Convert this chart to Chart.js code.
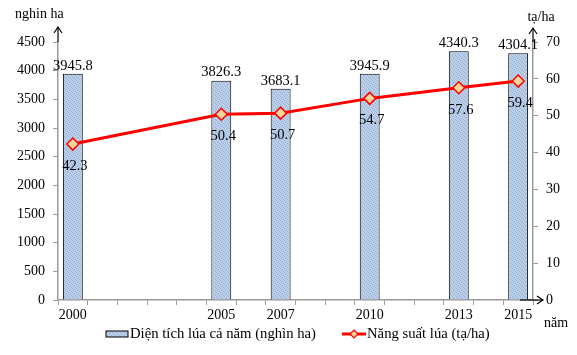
<!DOCTYPE html>
<html>
<head>
<meta charset="utf-8">
<script src="https://cdn.jsdelivr.net/npm/chart.js@4/dist/chart.umd.min.js"></script>
<style>
html,body{margin:0;padding:0;background:#fff;}
#c{display:block;}
</style>
</head>
<body>
<canvas id="c" width="577" height="355"></canvas>
<script>
const years = ['2000','2001','2002','2003','2004','2005','2006','2007','2008','2009','2010','2011','2012','2013','2014','2015'];
const shownYears = ['2000','2005','2007','2010','2013','2015'];
const areaValues = [3945.8, null, null, null, null, 3826.3, null, 3683.1, null, null, 3945.9, null, null, 4340.3, null, 4304.1];
const yieldValues = [42.3, null, null, null, null, 50.4, null, 50.7, null, null, 54.7, null, null, 57.6, null, 59.4];
const areaLabel = 'Diện tích lúa cả năm (nghìn ha)';
const yieldLabel = 'Năng suất lúa (tạ/ha)';
const leftTitle = 'nghin ha';
const rightTitle = 'tạ/ha';
const xTitle = 'năm';

const FONT = '"Liberation Serif", "Times New Roman", serif';

function makePattern() {
  const p = document.createElement('canvas');
  p.width = 4; p.height = 4;
  const g = p.getContext('2d');
  g.fillStyle = '#bdd0ea';
  g.fillRect(0,0,4,4);
  g.fillStyle = '#94aed6';
  g.fillRect(0,0,1,1); g.fillRect(2,1,1,1); g.fillRect(1,2,1,1); g.fillRect(3,3,1,1);
  return document.getElementById('c').getContext('2d').createPattern(p, 'repeat');
}
const barFill = makePattern();

function arrowUp(ctx, x, yTop, yBottom) {
  ctx.beginPath();
  ctx.moveTo(x, yBottom); ctx.lineTo(x, yTop);
  ctx.stroke();
  ctx.beginPath();
  ctx.moveTo(x - 4, yTop + 6); ctx.lineTo(x, yTop); ctx.lineTo(x + 4, yTop + 6);
  ctx.stroke();
}

const extras = {
  id: 'extras',
  afterDatasetsDraw(chart) {
    const ctx = chart.ctx;
    ctx.save();
    ctx.font = '14.5px ' + FONT;
    ctx.fillStyle = '#000';
    ctx.textAlign = 'center';
    ctx.textBaseline = 'middle';
    const m0 = chart.getDatasetMeta(0);
    m0.data.forEach((el, i) => {
      const v = areaValues[i];
      if (v == null) return;
      ctx.fillText(v.toFixed(1), el.x, el.y - 8);
    });
    const m1 = chart.getDatasetMeta(1);
    m1.data.forEach((el, i) => {
      const v = yieldValues[i];
      if (v == null) return;
      ctx.fillText(v.toFixed(1), el.x + 2, el.y + 22);
    });
    ctx.restore();
  },
  afterDraw(chart) {
    const ctx = chart.ctx;
    const a = chart.chartArea;
    ctx.save();
    ctx.strokeStyle = '#000';
    ctx.lineWidth = 1.2;
    arrowUp(ctx, a.left, a.top - 15, a.top);
    arrowUp(ctx, a.right, a.top - 14, a.top);
    // bottom right arrow
    ctx.beginPath();
    ctx.moveTo(a.right - 13, a.bottom); ctx.lineTo(a.right + 10, a.bottom);
    ctx.stroke();
    ctx.beginPath();
    ctx.moveTo(a.right + 4, a.bottom - 4); ctx.lineTo(a.right + 10, a.bottom); ctx.lineTo(a.right + 4, a.bottom + 4);
    ctx.stroke();

    ctx.fillStyle = '#000';
    ctx.font = '14px ' + FONT;
    ctx.textBaseline = 'middle';
    ctx.textAlign = 'left';
    ctx.fillText(leftTitle, 15, 14);
    ctx.textAlign = 'center';
    ctx.fillText(rightTitle, 541, 17);
    ctx.fillText(xTitle, 556, 323);

    // legend
    const ly = 334;
    ctx.font = '14.7px ' + FONT;
    ctx.fillStyle = barFill;
    ctx.fillRect(106, ly - 3, 22, 6);
    ctx.strokeStyle = '#000';
    ctx.lineWidth = 1;
    ctx.strokeRect(106, ly - 3, 22, 6);
    ctx.fillStyle = '#000';
    ctx.textAlign = 'left';
    ctx.fillText(areaLabel, 130, ly);
    ctx.strokeStyle = '#ff0000';
    ctx.lineWidth = 3;
    ctx.beginPath(); ctx.moveTo(342, ly); ctx.lineTo(366, ly); ctx.stroke();
    ctx.beginPath();
    ctx.moveTo(354, ly - 4); ctx.lineTo(358, ly); ctx.lineTo(354, ly + 4); ctx.lineTo(350, ly); ctx.closePath();
    ctx.fillStyle = '#f8d59a'; ctx.fill();
    ctx.lineWidth = 1.2; ctx.stroke();
    ctx.fillStyle = '#000';
    ctx.fillText(yieldLabel, 367, ly);
    ctx.restore();
  }
};

new Chart(document.getElementById('c'), {
  data: {
    labels: years,
    datasets: [
      {
        type: 'bar',
        label: areaLabel,
        data: areaValues,
        backgroundColor: barFill,
        borderColor: '#000',
        borderWidth: 1,
        yAxisID: 'y',
        categoryPercentage: 1,
        barPercentage: 0.67,
        order: 2
      },
      {
        type: 'line',
        label: yieldLabel,
        data: yieldValues,
        yAxisID: 'y1',
        borderColor: '#ff0000',
        borderWidth: 3,
        spanGaps: true,
        pointStyle: 'rectRot',
        pointRadius: 6,
        pointBackgroundColor: '#f8d59a',
        pointBorderColor: '#ff0000',
        pointBorderWidth: 1.5,
        tension: 0,
        order: 1
      }
    ]
  },
  options: {
    responsive: false,
    devicePixelRatio: 1,
    animation: false,
    layout: { padding: { top: 42, left: 0, right: 0, bottom: 0 } },
    plugins: { legend: { display: false }, tooltip: { enabled: false } },
    scales: {
      x: {
        type: 'category',
        offset: true,
        afterFit(s) { s.height = 55; },
        grid: { display: true, drawOnChartArea: false, offset: true, tickLength: 5, color: '#9a9a9a', lineWidth: 1 },
        border: { display: true, color: '#9a9a9a', width: 1.5 },
        ticks: {
          autoSkip: false, maxRotation: 0, padding: 2, color: '#000',
          font: { family: FONT, size: 14 },
          callback(v, i) { return shownYears.includes(years[i]) ? years[i] : ''; }
        }
      },
      y: {
        position: 'left',
        min: 0, max: 4500,
        afterFit(s) { s.width = 58; },
        grid: { drawOnChartArea: false, tickLength: 5, color: '#9a9a9a' },
        border: { display: true, color: '#9a9a9a', width: 1.5 },
        ticks: { stepSize: 500, padding: 8, color: '#000', font: { family: FONT, size: 14 },
          callback(v) { return String(v); } }
      },
      y1: {
        position: 'right',
        min: 0, max: 70,
        afterFit(s) { s.width = 44; },
        grid: { drawOnChartArea: false, tickLength: 5, color: '#9a9a9a' },
        border: { display: true, color: '#9a9a9a', width: 1.5 },
        ticks: { stepSize: 10, padding: 8, color: '#000', font: { family: FONT, size: 14 },
          callback(v) { return String(v); } }
      }
    }
  },
  plugins: [extras]
});
</script>
</body>
</html>
